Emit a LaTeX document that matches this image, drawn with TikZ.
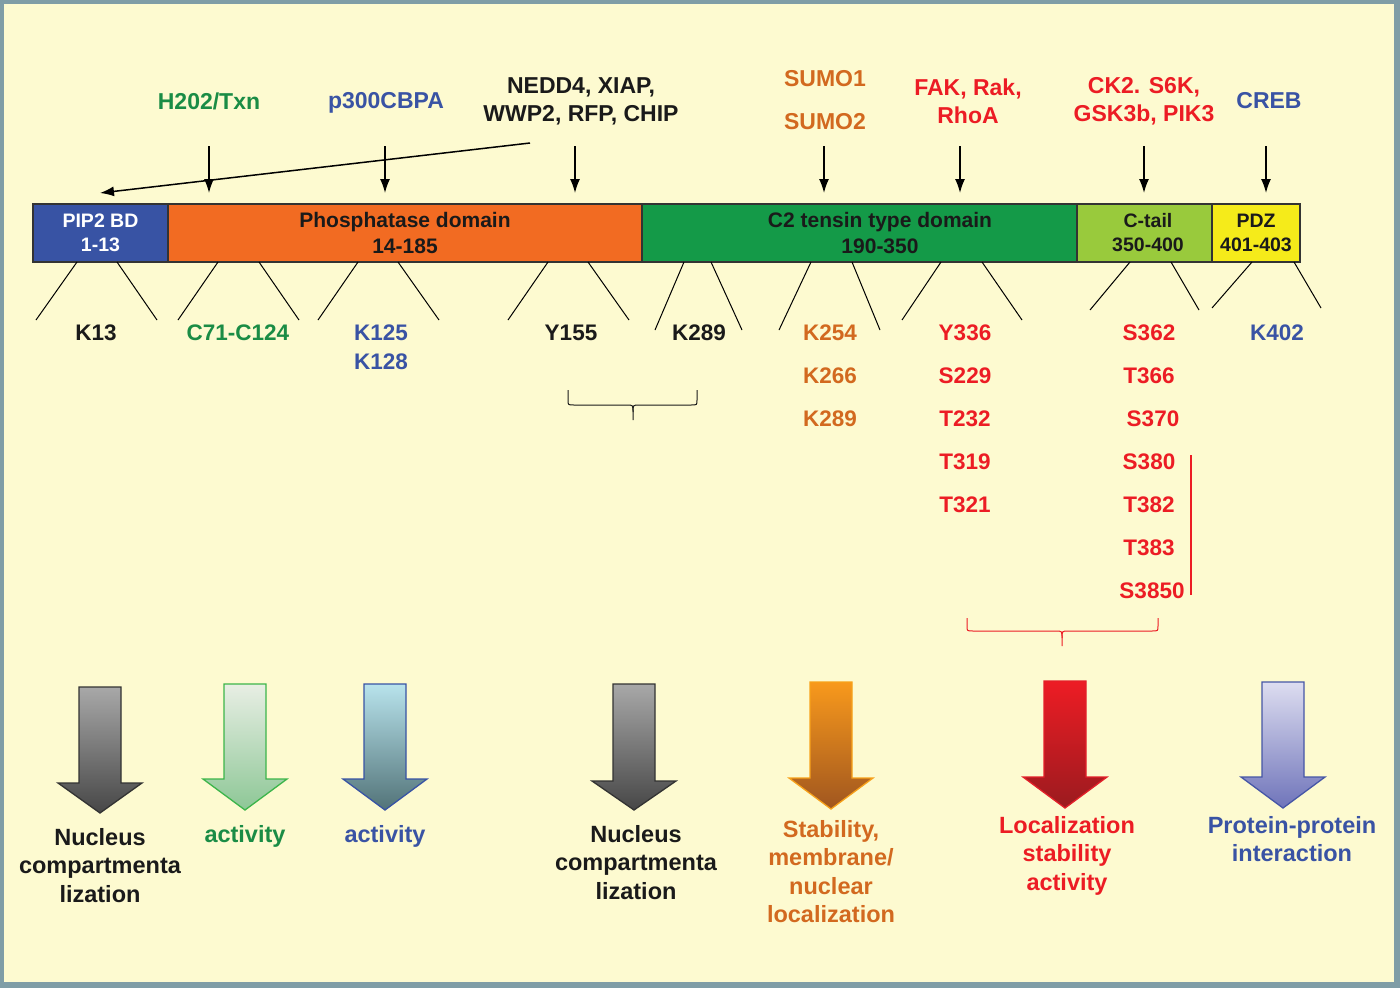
\documentclass[tikz,border=0pt]{standalone}
\usepackage{fontspec}
\setmainfont{Liberation Sans}
\usetikzlibrary{arrows.meta}
\definecolor{framec}{HTML}{7F9DA6}
\definecolor{bgc}{HTML}{FDFAD0}
\definecolor{pipblue}{HTML}{3853A4}
\definecolor{phosor}{HTML}{F26B22}
\definecolor{ctwo}{HTML}{149A48}
\definecolor{ctail}{HTML}{99CA3C}
\definecolor{pdzy}{HTML}{F5EB1A}
\definecolor{tgreen}{HTML}{1A8C45}
\definecolor{tblue}{HTML}{3953A4}
\definecolor{torange}{HTML}{D2691F}
\definecolor{tred}{HTML}{EC1C24}
\definecolor{tblack}{HTML}{1A1A1A}
\definecolor{grtop}{HTML}{A8A8A8}
\definecolor{grbot}{HTML}{474747}
\definecolor{grbd}{HTML}{333333}
\definecolor{gntop}{HTML}{E8EEE4}
\definecolor{gnbot}{HTML}{8DC796}
\definecolor{gnbd}{HTML}{3CB54A}
\definecolor{bltop}{HTML}{B8E3EC}
\definecolor{blbot}{HTML}{527378}
\definecolor{blbd}{HTML}{3853A4}
\definecolor{ortop}{HTML}{F8991C}
\definecolor{orbot}{HTML}{A0561F}
\definecolor{orbd}{HTML}{F7A11A}
\definecolor{rdtop}{HTML}{ED1C24}
\definecolor{rdbot}{HTML}{9B1B1F}
\definecolor{rdbd}{HTML}{E3202A}
\definecolor{lvtop}{HTML}{DDDDF0}
\definecolor{lvbot}{HTML}{6F74BA}
\definecolor{lvbd}{HTML}{4656A6}
\newcommand\blockarr[7]{%
  \shade[top color=#5,bottom color=#6,draw=#7,line width=1.3pt,line join=miter]
    (#1-21,#2) -- (#1+21,#2) -- (#1+21,#3) -- (#1+42,#3) -- (#1,#4) -- (#1-42,#3) -- (#1-21,#3) -- cycle;}
\tikzset{
  dom/.style={draw=black!80,line width=1.3pt,inner sep=0pt,align=center,minimum height=58pt},
  big/.style={font=\fontsize{21}{26}\selectfont\bfseries},
  small/.style={font=\fontsize{19.5}{24}\selectfont\bfseries},
  lab/.style={font=\fontsize{23}{28}\selectfont\bfseries,align=center,inner sep=0pt},
  res/.style={font=\fontsize{22.5}{28}\selectfont\bfseries,inner sep=0pt},
  outl/.style={font=\fontsize{23.5}{28.5}\selectfont\bfseries,align=center,inner sep=0pt},
  arr/.style={line width=1.5pt,-{Latex[length=14pt,width=10pt]}},
  diag/.style={line width=1pt,black},
}
\begin{document}
\begin{tikzpicture}[x=1pt,y=-1pt]
\fill[framec] (0,0) rectangle (1400,988);
\fill[bgc] (4,4) rectangle (1394,982);
\useasboundingbox (0,0) rectangle (1400,988);

% domain bar
\node[dom,fill=pipblue,text=white,small,minimum width=135pt] (pip) at (100.5,233) {PIP2 BD\\1-13};
\node[dom,fill=phosor,text=tblack,big,minimum width=474pt] (phos) at (405,233) {Phosphatase domain\\14-185};
\node[dom,fill=ctwo,minimum width=435pt] (c2) at (859.5,233) {};
\node[big,text=tblack,align=center,inner sep=0pt] (c2t) at (880,233) {C2 tensin type domain\\190-350};
\node[dom,fill=ctail,minimum width=135pt] (ctl) at (1144.5,233) {};
\node[small,text=tblack,align=center,inner sep=0pt] (ctlt) at (1148,233) {C-tail\\350-400};
\node[dom,fill=pdzy,text=tblack,small,minimum width=88pt] (pdz) at (1256,233) {PDZ\\401-403};

% top labels
\node[lab,text=tgreen] (h2o2) at (209,101) {H202/Txn};
\node[lab,text=tblue] (p300) at (386,103) {p300CBPA};
\node[lab,text=tblack] (nedd) at (581,101) {NEDD4, XIAP,\\WWP2, RFP, CHIP};
\node[lab,text=torange] (sumoa) at (825,79) {SUMO1};
\node[lab,text=torange] (sumob) at (825,122) {SUMO2};
\node[lab,text=tred] (fak) at (968,101) {FAK, Rak,\\RhoA};
\node[lab,text=tred] (ck2) at (1144,101) {CK2. S6K,\\GSK3b, PIK3};
\node[lab,text=tblue] (creb) at (1269,101) {CREB};

% top arrows
\coordinate (nstart) at (530,143);
\coordinate (nend) at (100,193);
\draw[arr] (nstart) -- (nend);
\foreach \x/\n in {209/a,385/b,575/c,824/d,960/e,1144/f,1266/g}{
  \coordinate (ts\n) at (\x,146);
  \coordinate (te\n) at (\x,193);
  \draw[arr] (ts\n) -- (te\n);
}

% diagonal lines below bar
\foreach \xa/\xb/\xc/\xd/\yy in {77/36/117/157/320, 218/178/259/299/320, 358/318/398/439/320, 548/508/588/629/320, 684/655/711/742/330, 811/779/852/880/330, 941/902/982/1022/320, 1130/1090/1171/1199/310, 1252/1212/1294/1321/308}{
  \draw[diag] (\xa,262) -- (\xb,\yy);
  \draw[diag] (\xc,262) -- (\xd,\yy);
}

% residues
\node[res,text=tblack] (k13) at (96,333) {K13};
\node[res,text=tgreen] (c71) at (238,333) {C71-C124};
\node[res,text=tblue] (k125) at (381,333) {K125};
\node[res,text=tblue] (k128) at (381,362) {K128};
\node[res,text=tblack] (y155) at (571,333) {Y155};
\node[res,text=tblack] (k289a) at (699,333) {K289};
\node[res,text=torange] (k254) at (830,333) {K254};
\node[res,text=torange] (k266) at (830,376) {K266};
\node[res,text=torange] (k289b) at (830,419) {K289};
\node[res,text=tred] (y336) at (965,333) {Y336};
\node[res,text=tred] (s229) at (965,376) {S229};
\node[res,text=tred] (t232) at (965,419) {T232};
\node[res,text=tred] (t319) at (965,462) {T319};
\node[res,text=tred] (t321) at (965,505) {T321};
\node[res,text=tred] (s362) at (1149,333) {S362};
\node[res,text=tred] (t366) at (1149,376) {T366};
\node[res,text=tred] (s370) at (1153,419) {S370};
\node[res,text=tred] (s380) at (1149,462) {S380};
\node[res,text=tred] (t382) at (1149,505) {T382};
\node[res,text=tred] (t383) at (1149,548) {T383};
\node[res,text=tred] (s3850) at (1152,591) {S3850};
\node[res,text=tblue] (k402) at (1277,333) {K402};

% red vertical bar
\draw[tred,line width=1.2pt] (1191,455) -- (1191,595);

% braces
\draw[tblack,line width=1pt] (568,390) -- (568,400) .. controls (568,405) .. (574,405) -- (627,405) .. controls (633,405) .. (633,412) -- (633,420);
\draw[tblack,line width=1pt] (633,412) .. controls (633,405) .. (639,405) -- (691,405) .. controls (697,405) .. (697,400) -- (697,390);
\draw[tred,line width=1pt] (967,618) -- (967,626) .. controls (967,631) .. (973,631) -- (1056,631) .. controls (1062,631) .. (1062,638) -- (1062,646);
\draw[tred,line width=1pt] (1062,638) .. controls (1062,631) .. (1068,631) -- (1152,631) .. controls (1158,631) .. (1158,626) -- (1158,618);

% bottom block arrows
\blockarr{100}{687}{783}{813}{grtop}{grbot}{grbd}
\blockarr{245}{684}{779}{810}{gntop}{gnbot}{gnbd}
\blockarr{385}{684}{779}{810}{bltop}{blbot}{blbd}
\blockarr{634}{684}{781}{810}{grtop}{grbot}{grbd}
\blockarr{831}{682}{778}{809}{ortop}{orbot}{orbd}
\blockarr{1065}{681}{777}{808}{rdtop}{rdbot}{rdbd}
\blockarr{1283}{682}{777}{808}{lvtop}{lvbot}{lvbd}

% outcome labels
\node[outl,text=tblack,anchor=north] (o1) at (100,828) {Nucleus\\compartmenta\\lization};
\node[outl,text=tgreen,anchor=north] (o2) at (245,825) {activity};
\node[outl,text=tblue,anchor=north] (o3) at (385,825) {activity};
\node[outl,text=tblack,anchor=north] (o4) at (636,825) {Nucleus\\compartmenta\\lization};
\node[outl,text=torange,anchor=north] (o5) at (831,820) {Stability,\\membrane/\\nuclear\\localization};
\node[outl,text=tred,anchor=north] (o6) at (1067,816) {Localization\\stability\\activity};
\node[outl,text=tblue,anchor=north] (o7) at (1292,816) {Protein-protein\\interaction};
\end{tikzpicture}
\end{document}
